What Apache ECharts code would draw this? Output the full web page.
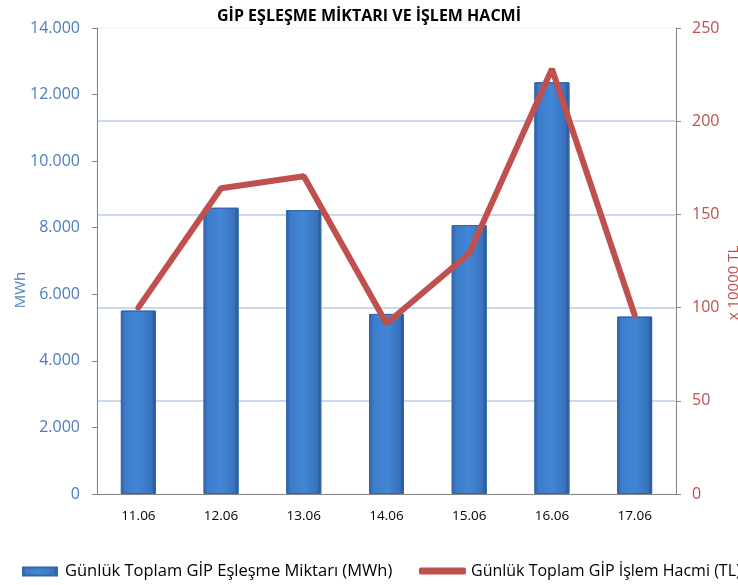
<!DOCTYPE html>
<html>
<head>
<meta charset="utf-8">
<script src="https://cdn.jsdelivr.net/npm/echarts@6/dist/echarts.min.js"></script>
<style>
  html, body { margin: 0; padding: 0; background: #fff; }
  #chart { width: 738px; height: 585px; }
</style>
</head>
<body>
<div id="chart"></div>
<script>
  // günler
  const days = ['11.06', '12.06', '13.06', '14.06', '15.06', '16.06', '17.06']
  // eşleşme miktarı (MWh)
  const matchMWh = [5510, 8600, 8530, 5410, 8080, 12370, 5330]
  // işlem hacmi (x 10000 TL)
  const volumeTL = [100, 164, 170.5, 91.5, 129, 228, 96]

  const barName = 'Günlük Toplam GİP Eşleşme Miktarı (MWh)'
  const lineName = 'Günlük Toplam GİP İşlem Hacmi (TL)'
  const font = 'Open Sans'
  const blue = '#4a7ebb'
  const red = '#c0504d'

  const barFill = new echarts.graphic.LinearGradient(0, 0, 1, 0, [
    { offset: 0, color: '#2b5ea3' },
    { offset: 0.12, color: '#3d7ccb' },
    { offset: 0.5, color: '#4286d5' },
    { offset: 0.88, color: '#3872bd' },
    { offset: 1, color: '#234e8b' },
  ])

  let chart = echarts.init(document.getElementById('chart'))
  chart.setOption({
    backgroundColor: '#fff',
    textStyle: { fontFamily: font },
    title: {
      text: 'GİP EŞLEŞME MİKTARI VE İŞLEM HACMİ',
      left: 'center',
      top: 3,
      textStyle: { fontFamily: font, fontSize: 16, fontWeight: 'bold', color: '#000' },
    },
    legend: [
      {
        data: [{ name: barName, icon: 'rect' }],
        left: 17,
        top: 558,
        itemWidth: 34,
        itemHeight: 8,
        textStyle: { fontFamily: font, fontSize: 16.5, color: '#000', padding: [0, 0, 0, 3] },
      },
      {
        data: [{ name: lineName, icon: 'roundRect' }],
        left: 414,
        top: 558,
        itemWidth: 47,
        itemHeight: 7,
        textStyle: { fontFamily: font, fontSize: 16, color: '#000' },
      },
    ],
    grid: {
      left: 97,
      right: 62,
      top: 28,
      bottom: 91,
      outerBoundsMode: 'none',
      show: true,
      borderColor: '#edf2f9',
      borderWidth: 1,
    },
    xAxis: {
      type: 'category',
      data: days,
      axisLine: { lineStyle: { color: '#868686' } },
      axisTick: { length: 5, lineStyle: { color: '#868686' } },
      axisLabel: { color: '#000', fontSize: 13.5, margin: 15 },
    },
    yAxis: [
      {
        type: 'value',
        min: 0,
        max: 14000,
        interval: 2000,
        name: 'MWh',
        nameLocation: 'middle',
        nameRotate: 90,
        nameGap: 69,
        nameMoveOverlap: false,
        nameTextStyle: { color: blue, fontSize: 15, padding: [0, 58, 0, 0] },
        axisLine: { show: true, lineStyle: { color: '#868686' } },
        axisTick: { show: true, length: 5, lineStyle: { color: '#868686' } },
        axisLabel: {
          color: blue,
          fontSize: 16,
          margin: 17,
          formatter: (v) => v.toLocaleString('de-DE'),
        },
        splitLine: { show: false },
      },
      {
        type: 'value',
        min: 0,
        max: 250,
        interval: 50,
        name: 'x 10000 TL',
        nameLocation: 'middle',
        nameRotate: 90,
        nameGap: 50,
        nameMoveOverlap: false,
        nameTextStyle: { color: red, fontSize: 15, padding: [0, 44, 0, 0] },
        axisLine: { show: true, lineStyle: { color: '#868686' } },
        axisTick: { show: true, length: 5, lineStyle: { color: '#868686' } },
        axisLabel: { color: red, fontSize: 16, margin: 16 },
        splitLine: {
          show: true,
          showMinLine: false,
          showMaxLine: false,
          lineStyle: { color: '#b9cde5', width: 1.5 },
        },
      },
    ],
    series: [
      {
        name: barName,
        type: 'bar',
        data: matchMWh,
        barWidth: 35,
        itemStyle: { color: barFill, borderColor: '#3466a8', borderWidth: 1 },
      },
      {
        name: lineName,
        type: 'line',
        yAxisIndex: 1,
        data: volumeTL,
        symbol: 'none',
        color: red,
        lineStyle: { color: red, width: 6, cap: 'round' },
        z: 3,
      },
    ],
  })
</script>
</body>
</html>
